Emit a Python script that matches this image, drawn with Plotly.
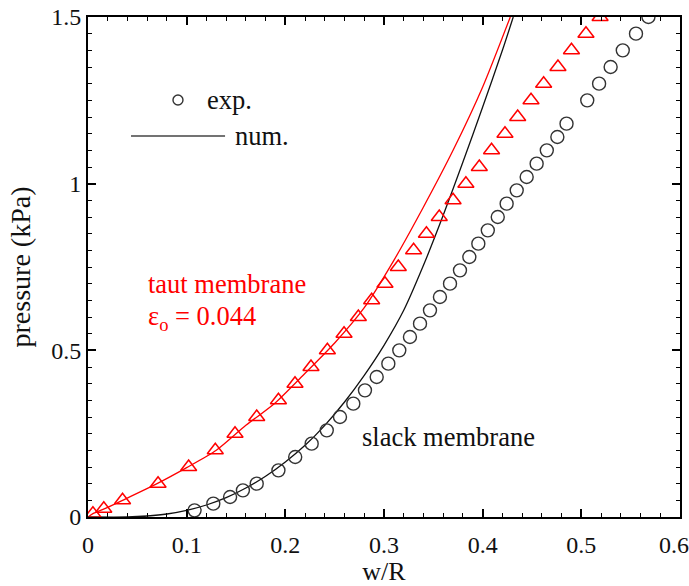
import plotly.graph_objects as go

# ---- data ----
# experimental, slack membrane (circles)
slack_exp_x = [0.108, 0.127, 0.144, 0.157, 0.171, 0.193, 0.210, 0.2267, 0.242, 0.2554,
               0.2689, 0.2807, 0.2926, 0.3044, 0.3155, 0.3263, 0.3365, 0.3466, 0.3567, 0.3669,
               0.377, 0.3865, 0.3956, 0.4052, 0.4153, 0.4243, 0.4345, 0.4446, 0.4547, 0.465,
               0.4757, 0.485, 0.506, 0.518, 0.5297, 0.542, 0.5554, 0.568]
slack_exp_y = [0.02, 0.04, 0.06, 0.08, 0.10, 0.14, 0.18, 0.22, 0.26, 0.30,
               0.34, 0.38, 0.42, 0.46, 0.50, 0.54, 0.58, 0.62, 0.66, 0.70,
               0.74, 0.78, 0.82, 0.86, 0.90, 0.94, 0.98, 1.02, 1.06, 1.10,
               1.14, 1.18, 1.25, 1.30, 1.35, 1.40, 1.45, 1.50]

# experimental, taut membrane (triangles)
taut_exp_x = [0.005, 0.016, 0.035, 0.071, 0.102, 0.129, 0.149, 0.171, 0.193, 0.2098,
              0.226, 0.2426, 0.2595, 0.274, 0.2875, 0.301, 0.3145, 0.330, 0.343, 0.356,
              0.370, 0.383, 0.3966, 0.409, 0.4226, 0.4355, 0.449, 0.4618, 0.4763, 0.490,
              0.5047, 0.519]
taut_exp_y = [0.01, 0.025, 0.05, 0.10, 0.15, 0.20, 0.25, 0.30, 0.35, 0.40,
              0.45, 0.50, 0.55, 0.60, 0.65, 0.70, 0.75, 0.80, 0.85, 0.90,
              0.95, 1.00, 1.05, 1.10, 1.15, 1.20, 1.25, 1.30, 1.35, 1.40,
              1.45, 1.50]

# numerical, slack membrane (black line)
slack_num_x = [0.0, 0.04, 0.06, 0.08, 0.10, 0.12, 0.14, 0.16, 0.18, 0.20, 0.22,
               0.24, 0.26, 0.28, 0.30, 0.32, 0.34, 0.36, 0.38, 0.40, 0.42, 0.431]
slack_num_y = [0.0, 0.0, 0.003, 0.009, 0.02, 0.036, 0.058, 0.087, 0.122, 0.165, 0.215,
               0.275, 0.345, 0.425, 0.515, 0.62, 0.755, 0.905, 1.065, 1.23, 1.40, 1.50]

# numerical, taut membrane (red line)
taut_num_x = [0.0, 0.005, 0.017, 0.035, 0.07, 0.10, 0.13, 0.16, 0.19, 0.22, 0.25, 0.28,
              0.31, 0.34, 0.37, 0.40, 0.428]
taut_num_y = [0.0, 0.01, 0.025, 0.05, 0.10, 0.148, 0.20, 0.275, 0.343, 0.431, 0.522, 0.628,
              0.77, 0.93, 1.10, 1.29, 1.50]

x_ticks = [0, 0.1, 0.2, 0.3, 0.4, 0.5, 0.6]
x_tick_labels = ["0", "0.1", "0.2", "0.3", "0.4", "0.5", "0.6\u00a0\u00a0"]
y_ticks = [0, 0.5, 1, 1.5]
y_tick_labels = ["0", "0.5", "1", "1.5"]

FONT = "Liberation Serif"
RED = "#ff0000"
DARK = "#333333"
TXT = 26.5

fig = go.Figure()

fig.add_trace(go.Scatter(x=taut_num_x, y=taut_num_y, mode="lines",
                         line=dict(color=RED, width=1.3, shape="spline", smoothing=0.7),
                         showlegend=False, hoverinfo="skip"))
fig.add_trace(go.Scatter(x=slack_num_x, y=slack_num_y, mode="lines",
                         line=dict(color="#111111", width=1.3, shape="spline", smoothing=0.7),
                         showlegend=False, hoverinfo="skip"))
fig.add_trace(go.Scatter(x=taut_exp_x, y=taut_exp_y, mode="markers",
                         marker=dict(symbol="triangle-up-open", size=14, color=RED,
                                     line=dict(width=1.5, color=RED)),
                         showlegend=False))
fig.add_trace(go.Scatter(x=slack_exp_x, y=slack_exp_y, mode="markers",
                         marker=dict(symbol="circle-open", size=13, color=DARK,
                                     line=dict(width=1.4, color=DARK)),
                         showlegend=False))

# manual legend
fig.add_trace(go.Scatter(x=[0.0912], y=[1.251], mode="markers",
                         marker=dict(symbol="circle-open", size=10, color=DARK,
                                     line=dict(width=1.4, color=DARK)),
                         showlegend=False, hoverinfo="skip"))
fig.add_shape(type="line", xref="x", yref="y", x0=0.0436, x1=0.1389, y0=1.143, y1=1.143,
              line=dict(color="#444444", width=1.5))

ann_font = dict(family=FONT, size=TXT, color="#111111")
fig.add_annotation(x=0.1186, y=1.251, text="exp.", showarrow=False, xanchor="left",
                   yanchor="middle", font=ann_font)
fig.add_annotation(x=0.147, y=1.143, text="num.", showarrow=False, xanchor="left",
                   yanchor="middle", font=ann_font)
fig.add_annotation(x=0.0588, y=0.699, text="taut membrane", showarrow=False, xanchor="left",
                   yanchor="middle", font=dict(family=FONT, size=TXT, color=RED))
fig.add_annotation(x=0.0588, y=0.597, text="ε<sub>o</sub> = 0.044", showarrow=False,
                   xanchor="left", yanchor="middle", font=dict(family=FONT, size=TXT, color=RED))
fig.add_annotation(x=0.2757, y=0.24, text="slack membrane", showarrow=False, xanchor="left",
                   yanchor="middle", font=ann_font)

axis_common = dict(showline=True, linecolor="black", linewidth=2, mirror="allticks",
                   ticks="inside", ticklen=8, tickwidth=1.5, tickcolor="black",
                   showgrid=False, zeroline=False, ticklabeloverflow="allow",
                   automargin=False,
                   tickfont=dict(family=FONT, size=24, color="#111111"))

fig.update_layout(
    width=689, height=586,
    margin=dict(l=88, r=9, t=17, b=69),
    paper_bgcolor="white", plot_bgcolor="white",
    font=dict(family=FONT, size=24, color="#111111"),
    xaxis=dict(range=[0, 0.6], tickvals=x_ticks, ticktext=x_tick_labels,
               ticklabelstandoff=5,
               minor=dict(ticks="inside", ticklen=4, tickwidth=1.2, dtick=0.02,
                          tick0=0, tickcolor="black"),
               title=dict(text="w/R", font=dict(family=FONT, size=26), standoff=6),
               **axis_common),
    yaxis=dict(range=[0, 1.5], tickvals=y_ticks, ticktext=y_tick_labels,
               minor=dict(ticks="inside", ticklen=4, tickwidth=1.2, dtick=0.05,
                          tick0=0, tickcolor="black"),
               title=dict(text="pressure (kPa)", font=dict(family=FONT, size=28), standoff=12),
               **axis_common),
)

fig.write_html("out.html")
